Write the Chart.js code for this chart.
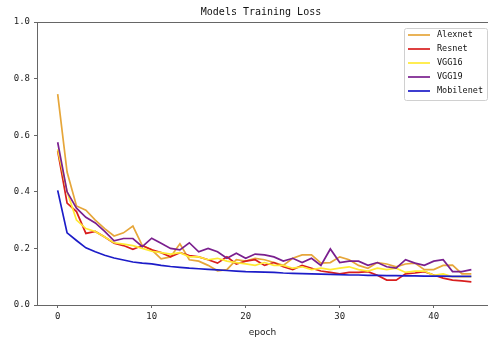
<!DOCTYPE html>
<html>
<head>
<meta charset="utf-8">
<script src="https://cdn.jsdelivr.net/npm/chart.js@4.4.1/dist/chart.umd.min.js"></script>
<style>
  html, body { margin: 0; padding: 0; background: #fff; overflow: hidden; }
  #wrap { width: 488px; height: 338px; }
</style>
</head>
<body>
<div id="wrap"><canvas id="lossChart"></canvas></div>
<script>
const epochs = [0, 1, 2, 3, 4, 5, 6, 7, 8, 9, 10, 11, 12, 13, 14, 15, 16, 17, 18, 19, 20, 21,
  22, 23, 24, 25, 26, 27, 28, 29, 30, 31, 32, 33, 34, 35, 36, 37, 38, 39, 40, 41, 42, 43, 44];
const xTicks = [0, 10, 20, 30, 40];
const yTicks = [0, 0.2, 0.4, 0.6, 0.8, 1.0];

const alexnet = [0.745, 0.47, 0.35, 0.335, 0.30, 0.27, 0.244, 0.255, 0.279, 0.21, 0.195, 0.163, 0.17, 0.216, 0.16,
  0.155, 0.14, 0.121, 0.125, 0.16, 0.155, 0.165, 0.16, 0.15, 0.14, 0.165, 0.177, 0.177, 0.148, 0.15,
  0.17, 0.16, 0.14, 0.13, 0.15, 0.145, 0.135, 0.145, 0.148, 0.125, 0.125, 0.14, 0.141, 0.11, 0.11];
const resnet = [0.545, 0.36, 0.33, 0.253, 0.26, 0.24, 0.218, 0.21, 0.197, 0.21, 0.195, 0.185, 0.17, 0.185, 0.175,
  0.17, 0.16, 0.148, 0.17, 0.145, 0.155, 0.16, 0.14, 0.15, 0.135, 0.125, 0.14, 0.13, 0.12, 0.115,
  0.11, 0.115, 0.115, 0.118, 0.105, 0.088, 0.088, 0.11, 0.113, 0.118, 0.106, 0.095, 0.088, 0.085, 0.082];
const vgg16 = [0.55, 0.40, 0.30, 0.27, 0.26, 0.24, 0.22, 0.215, 0.21, 0.2, 0.19, 0.185, 0.18, 0.185, 0.17,
  0.17, 0.16, 0.165, 0.155, 0.15, 0.145, 0.14, 0.15, 0.14, 0.14, 0.13, 0.135, 0.125, 0.13, 0.125,
  0.13, 0.135, 0.125, 0.12, 0.13, 0.125, 0.13, 0.115, 0.12, 0.12, 0.105, 0.11, 0.1, 0.1, 0.1];
const vgg19 = [0.575, 0.40, 0.342, 0.31, 0.29, 0.26, 0.227, 0.235, 0.235, 0.206, 0.236, 0.218, 0.2, 0.195, 0.22,
  0.188, 0.2, 0.188, 0.165, 0.183, 0.165, 0.18, 0.177, 0.17, 0.155, 0.165, 0.15, 0.165, 0.14, 0.198,
  0.15, 0.155, 0.155, 0.14, 0.15, 0.135, 0.13, 0.16, 0.148, 0.14, 0.155, 0.16, 0.118, 0.118, 0.125];
const mobilenet = [0.405, 0.255, 0.228, 0.202, 0.188, 0.176, 0.166, 0.159, 0.152, 0.148, 0.145, 0.14, 0.136, 0.133, 0.13,
  0.128, 0.126, 0.124, 0.122, 0.12, 0.118, 0.117, 0.116, 0.115, 0.113, 0.112, 0.111, 0.11, 0.109, 0.108,
  0.107, 0.106, 0.106, 0.105, 0.105, 0.104, 0.104, 0.103, 0.103, 0.102, 0.102, 0.102, 0.101, 0.101, 0.101];

const seriesNames = ['Alexnet', 'Resnet', 'VGG16', 'VGG19', 'Mobilenet'];
const seriesValues = [alexnet, resnet, vgg16, vgg19, mobilenet];
const seriesColors = ['#e6a63a', '#d81e1e', '#ffea33', '#7a1f8e', '#1c1cc8'];

const titleText = 'Models Training Loss';
const xLabel = 'epoch';
const axisColor = '#666';

// matplotlib-like title, top spine and in-plot legend
const decorPlugin = {
  id: 'decor',
  afterDraw(chart) {
    const { ctx, chartArea: a } = chart;
    ctx.save();
    // top spine (right one falls outside the window)
    ctx.strokeStyle = axisColor;
    ctx.lineWidth = 1;
    ctx.beginPath();
    ctx.moveTo(a.left, a.top + 0.5);
    ctx.lineTo(a.right, a.top + 0.5);
    ctx.stroke();
    // title
    ctx.fillStyle = '#111';
    ctx.font = '10px "DejaVu Sans Mono"';
    ctx.textAlign = 'center';
    ctx.textBaseline = 'middle';
    ctx.fillText(titleText, 261, 12);
    // legend
    const bx = 404, by = 28, bw = 83, bh = 72;
    ctx.fillStyle = 'rgba(255,255,255,0.85)';
    ctx.strokeStyle = '#d0d0d0';
    ctx.beginPath();
    ctx.roundRect(bx + 0.5, by + 0.5, bw, bh, 2);
    ctx.fill();
    ctx.stroke();
    ctx.font = '8.5px "DejaVu Sans Mono"';
    ctx.textAlign = 'left';
    seriesNames.forEach((name, i) => {
      const y = 35 + i * 14;
      ctx.strokeStyle = seriesColors[i];
      ctx.lineWidth = 1.7;
      ctx.beginPath();
      ctx.moveTo(408, y);
      ctx.lineTo(430, y);
      ctx.stroke();
      ctx.fillStyle = '#111';
      ctx.fillText(name, 437, y);
    });
    ctx.restore();
  }
};

const ctxLoss = document.getElementById('lossChart').getContext('2d');

new Chart(ctxLoss, {
  type: 'line',
  data: {
    datasets: seriesNames.map((name, i) => ({
      label: name,
      data: epochs.map((e, j) => ({ x: e, y: seriesValues[i][j] })),
      borderColor: seriesColors[i],
      backgroundColor: seriesColors[i],
      borderWidth: 1.7,
      pointRadius: 0,
      tension: 0,
      fill: false,
      order: seriesNames.length - i
    }))
  },
  options: {
    responsive: true,
    maintainAspectRatio: false,
    animation: false,
    layout: { padding: { top: 22, right: 0, left: 0, bottom: 0 } },
    plugins: {
      legend: { display: false },
      title: { display: false },
      tooltip: { enabled: false }
    },
    scales: {
      x: {
        type: 'linear',
        min: -2.2,
        max: 45.77,
        afterBuildTicks: (scale) => { scale.ticks = xTicks.map(v => ({ value: v })); },
        afterFit: (scale) => { scale.height = 33; },
        grid: { drawOnChartArea: false, drawTicks: true, tickLength: 3, color: axisColor },
        border: { display: true, color: axisColor },
        ticks: {
          padding: 3,
          color: '#222',
          font: { family: 'DejaVu Sans Mono', size: 9 },
          callback: (v) => String(v)
        },
        title: {
          display: true,
          text: xLabel,
          color: '#222',
          padding: { top: 0, bottom: 0 },
          font: { family: 'DejaVu Sans', size: 9 }
        }
      },
      y: {
        min: 0,
        max: 1,
        afterBuildTicks: (scale) => { scale.ticks = yTicks.map(v => ({ value: v })); },
        afterFit: (scale) => { scale.width = 37; },
        grid: { drawOnChartArea: false, drawTicks: true, tickLength: 3, color: axisColor },
        border: { display: true, color: axisColor },
        ticks: {
          padding: 4,
          color: '#222',
          font: { family: 'DejaVu Sans Mono', size: 9 },
          callback: (v) => Number(v).toFixed(1)
        }
      }
    }
  },
  plugins: [decorPlugin]
});
</script>
</body>
</html>
